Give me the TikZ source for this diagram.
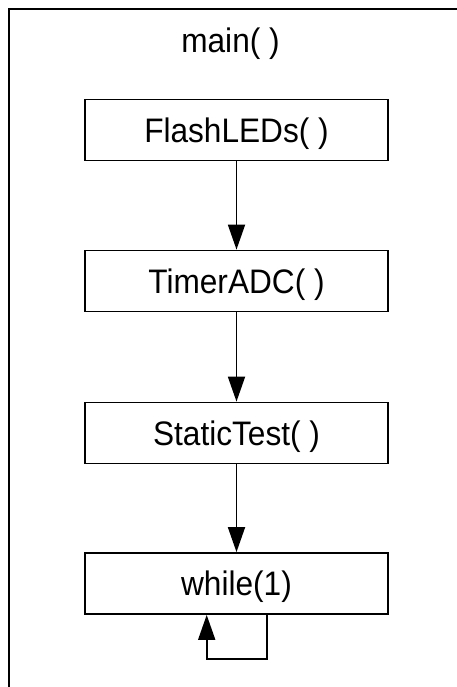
\documentclass[tikz,border=0pt]{standalone}
\usepackage{fontspec}
\setmainfont{Liberation Sans}
\newfontfamily\labfont[FakeStretch=0.93]{Liberation Sans}
\usetikzlibrary{arrows.meta}
\begin{document}
\begin{tikzpicture}[x=1pt,y=-1pt,
  fnbox/.style={draw,line width=1.8pt,minimum width=303pt,minimum height=61pt,inner sep=0pt,text height=24.3pt,text depth=0pt,font=\labfont\fontsize{34}{40}\selectfont},
  flow/.style={line width=1.8pt,-{Triangle[length=25pt,width=17pt]}},
  lbl/.style={font=\labfont\fontsize{34}{40}\selectfont,inner sep=0pt}]
\useasboundingbox (0,0) rectangle (456,687);
\fill[white] (0,0) rectangle (456,687);
\draw[line width=2.2pt] (9,700) -- (9,9) -- (470,9);
\node[lbl,anchor=base] (title) at (230.5,53) {main( )};
\node[fnbox] (f) at (236.5,130) {FlashLEDs( )};
\node[fnbox] (t) at (236.5,281) {TimerADC( )};
\node[fnbox] (s) at (236.5,433) {StaticTest( )};
\node[fnbox] (w) at (236.5,583.5) {while(1)};
\draw[flow] (f) -- (t);
\draw[flow] (t) -- (s);
\draw[flow] (s) -- (w);
\coordinate (a) at (266.7,659);
\coordinate (b) at (206.7,659);
\draw[flow] (w.south -| a) -- (a) -- (b) -- (w.south -| b);
\end{tikzpicture}
\end{document}
